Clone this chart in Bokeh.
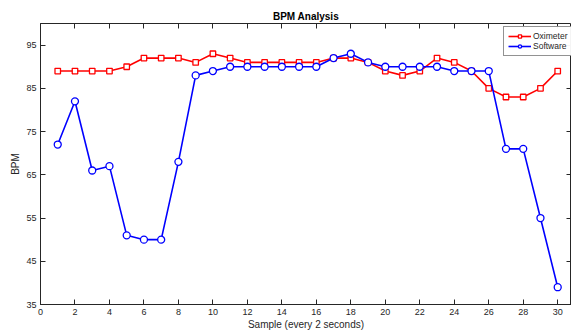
from bokeh.plotting import figure
from bokeh.models import FixedTicker, LinearAxis, CustomJSTickFormatter, Range1d
from bokeh.embed import file_html
from bokeh.resources import INLINE

samples = list(range(1, 31))
oximeter = [89, 89, 89, 89, 90, 92, 92, 92, 91, 93, 92, 91, 91, 91, 91,
            91, 92, 92, 91, 89, 88, 89, 92, 91, 89, 85, 83, 83, 85, 89]
software = [72, 82, 66, 67, 51, 50, 50, 68, 88, 89, 90, 90, 90, 90, 90,
            90, 92, 93, 91, 90, 90, 90, 90, 89, 89, 89, 71, 71, 55, 39]
x_ticks = list(range(0, 31, 2))
y_ticks = [35, 45, 55, 65, 75, 85, 95]

FONT = "Liberation Sans"
AX = "#262626"

p = figure(width=571, height=332, output_backend="svg", toolbar_location=None,
           x_range=Range1d(0, 30.8), y_range=Range1d(35, 100),
           min_border_left=40, min_border_right=0, min_border_top=23,
           min_border_bottom=28, title="BPM Analysis")
p.background_fill_color = "white"
p.border_fill_color = "white"
p.outline_line_color = AX
p.outline_line_width = 1
p.grid.visible = False

p.title.align = "center"
p.title.text_font = FONT
p.title.text_font_size = "10px"
p.title.text_font_style = "bold"
p.title.text_color = "black"
p.title.standoff = 4

for ax in (p.xaxis[0], p.yaxis[0]):
    ax.axis_line_color = AX
    ax.major_tick_line_color = AX
    ax.major_tick_in = 5
    ax.major_tick_out = 0
    ax.minor_tick_line_color = None
    ax.major_label_text_font = FONT
    ax.major_label_text_font_size = "9px"
    ax.major_label_text_color = AX
    ax.axis_label_text_font = FONT
    ax.axis_label_text_font_size = "10px"
    ax.axis_label_text_font_style = "normal"
    ax.axis_label_text_color = AX

p.xaxis[0].major_label_standoff = 4
p.xaxis[0].axis_label_standoff = 1
p.yaxis[0].major_label_standoff = 4
p.yaxis[0].axis_label_standoff = 2

p.xaxis[0].ticker = FixedTicker(ticks=x_ticks)
p.yaxis[0].ticker = FixedTicker(ticks=y_ticks)
p.xaxis[0].axis_label = "Sample (every 2 seconds)"
p.yaxis[0].axis_label = "BPM"

blank = CustomJSTickFormatter(code="return ''")
top = LinearAxis(ticker=FixedTicker(ticks=x_ticks), formatter=blank,
                 major_tick_in=5, major_tick_out=0, minor_tick_line_color=None,
                 axis_line_color=None, major_tick_line_color=AX,
                 major_label_standoff=0, major_label_text_font_size="1px")
right = LinearAxis(ticker=FixedTicker(ticks=y_ticks), formatter=blank,
                   major_tick_in=5, major_tick_out=0, minor_tick_line_color=None,
                   axis_line_color=None, major_tick_line_color=AX,
                   major_label_standoff=0, major_label_text_font_size="1px")
p.add_layout(top, "above")
p.add_layout(right, "right")

RED = "#ff0000"
BLUE = "#0000ff"
p.line(samples, oximeter, line_color=RED, line_width=1.6, legend_label="Oximeter")
p.scatter(samples, oximeter, marker="square", size=5.5, line_color=RED,
          fill_color="white", line_width=1.3, legend_label="Oximeter")
p.line(samples, software, line_color=BLUE, line_width=1.6, legend_label="Software")
p.scatter(samples, software, marker="circle", size=7, line_color=BLUE,
          fill_color="white", line_width=1.3, legend_label="Software")

lg = p.legend[0]
lg.location = (463, 248)
lg.margin = 0
lg.padding = 4
lg.spacing = 0
lg.border_line_color = AX
lg.border_line_width = 0.6
lg.label_text_font = FONT
lg.label_text_font_size = "8.5px"
lg.label_text_color = AX
lg.label_height = 8
lg.glyph_height = 8
lg.glyph_width = 23
lg.label_standoff = 2
lg.background_fill_color = "white"

open("out.html", "w").write(file_html(p, INLINE))
